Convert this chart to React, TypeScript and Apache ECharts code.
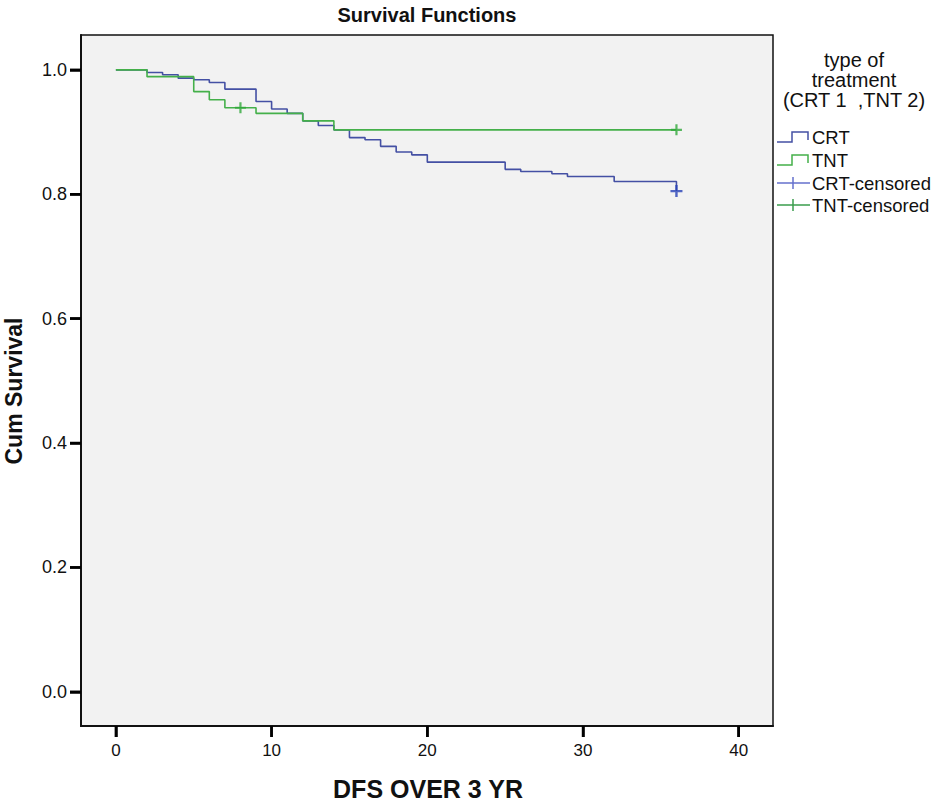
import React, { useEffect, useRef } from "react";
import * as echarts from "echarts";

// ---- data ----
const crtTimes = [0, 2, 3, 4, 5, 6, 7, 9, 10, 11, 12, 13, 14, 15, 16, 17, 18, 19, 20, 25, 26, 28, 29, 32, 36];
const crtSurv = [1.0, 0.9957, 0.992, 0.9866, 0.984, 0.9796, 0.969, 0.949, 0.937, 0.93, 0.918, 0.9105, 0.9035, 0.891, 0.8875, 0.877, 0.868, 0.8633, 0.8516, 0.84, 0.8365, 0.8328, 0.8285, 0.8204, 0.805];
const tntTimes = [0, 2, 5, 6, 7, 9, 12, 14, 36];
const tntSurv = [1.0, 0.989, 0.965, 0.952, 0.939, 0.93, 0.918, 0.9035, 0.9035];
const crtCensorTimes = [36];
const crtCensorSurv = [0.805];
const tntCensorTimes = [8, 36];
const tntCensorSurv = [0.939, 0.9035];
const xTicks = [0, 10, 20, 30, 40];
const yTicks = [0, 0.2, 0.4, 0.6, 0.8, 1.0];
const legendTitle = ["type of", "treatment", "(CRT 1  ,TNT 2)"];
const legendItems = ["CRT", "TNT", "CRT-censored", "TNT-censored"];

const X_MIN = -2.24;
const X_MAX = 42.2;
const Y_MIN = -0.055;
const Y_MAX = 1.056;

const FONT = "Arial, 'Liberation Sans', sans-serif";
const CRT_COLOR = "#4450a4";
const TNT_COLOR = "#44b04a";
const CRT_CENSOR = "#2640b6";
const TNT_CENSOR = "#2fa83a";
const PLUS = "path://M4,0H6V4H10V6H6V10H4V6H0V4H4Z";
const TICK_LEN = 11;

const zip = (a: number[], b: number[]) => a.map((v, i) => [v, b[i]]);

export default function App() {
  const ref = useRef<HTMLDivElement>(null);
  useEffect(() => {
    if (!ref.current) return;
    const chart = echarts.init(ref.current, null, { renderer: "svg" });

    const legendGraphics: any[] = [];
    legendTitle.forEach((t, i) => {
      legendGraphics.push({
        type: "text",
        x: 854,
        y: 60 + i * 20,
        style: { text: t, font: `20px ${FONT}`, fill: "#111", textAlign: "center", textVerticalAlign: "middle" },
      });
    });
    const itemY = [137, 160, 183, 205];
    const iconColors = [CRT_COLOR, TNT_COLOR, "#6470cc", "#3a9d4c"];
    legendItems.forEach((t, i) => {
      const y = itemY[i];
      if (i < 2) {
        legendGraphics.push({
          type: "polyline",
          shape: { points: [[777, y + 5], [792, y + 5], [792, y - 5], [808, y - 5], [808, y + 3]] },
          style: { stroke: iconColors[i], lineWidth: 1.5, fill: null },
        });
      } else {
        legendGraphics.push({
          type: "line",
          shape: { x1: 777, y1: y, x2: 810, y2: y },
          style: { stroke: iconColors[i], lineWidth: 1.5 },
        });
        legendGraphics.push({
          type: "line",
          shape: { x1: 793, y1: y - 6, x2: 793, y2: y + 6 },
          style: { stroke: iconColors[i], lineWidth: 1.5 },
        });
      }
      legendGraphics.push({
        type: "text",
        x: 812,
        y,
        style: { text: t, font: `18.5px ${FONT}`, fill: "#111", textAlign: "left", textVerticalAlign: "middle" },
      });
    });

    // tick marks drawn through the axes' own scales
    const tickData = [
      ...xTicks.map((v) => [v, Y_MIN, 0]),
      ...yTicks.map((v) => [X_MIN, v, 1]),
    ];

    chart.setOption({
      animation: false,
      grid: {
        left: 81,
        top: 35,
        width: 692,
        height: 691,
        show: true,
        backgroundColor: "#f2f2f2",
        borderColor: "#111",
        borderWidth: 1.5,
      },
      xAxis: {
        type: "value",
        min: X_MIN,
        max: X_MAX,
        splitLine: { show: false },
        axisLine: { show: true, onZero: false, lineStyle: { color: "#111", width: 2 } },
        axisTick: { show: true, customValues: xTicks, length: TICK_LEN, lineStyle: { color: "#000", width: 2.5 } },
        axisLabel: { customValues: xTicks, fontFamily: FONT, fontSize: 17, color: "#111", margin: 16 },
      },
      yAxis: {
        type: "value",
        min: Y_MIN,
        max: Y_MAX,
        splitLine: { show: false },
        axisLine: { show: true, onZero: false, lineStyle: { color: "#111", width: 2 } },
        axisTick: { show: true, customValues: yTicks, length: TICK_LEN, lineStyle: { color: "#000", width: 2.5 } },
        axisLabel: {
          customValues: yTicks,
          fontFamily: FONT,
          fontSize: 18,
          color: "#111",
          margin: 14,
          formatter: (v: number) => v.toFixed(1),
        },
      },
      graphic: [
        {
          type: "text",
          x: 427,
          y: 15,
          style: {
            text: "Survival Functions",
            font: `bold 20px ${FONT}`,
            fill: "#111",
            textAlign: "center",
            textVerticalAlign: "middle",
          },
        },
        {
          type: "text",
          x: 14,
          y: 391,
          rotation: Math.PI / 2,
          style: {
            text: "Cum Survival",
            font: `bold 23px ${FONT}`,
            fill: "#111",
            textAlign: "center",
            textVerticalAlign: "middle",
          },
        },
        {
          type: "text",
          x: 428,
          y: 789,
          style: {
            text: "DFS OVER 3 YR",
            font: `bold 25px ${FONT}`,
            fill: "#111",
            textAlign: "center",
            textVerticalAlign: "middle",
          },
        },
        ...legendGraphics,
      ],
      series: [
        {
          name: "CRT",
          type: "line",
          step: "end",
          data: zip(crtTimes, crtSurv),
          showSymbol: false,
          symbol: "none",
          lineStyle: { color: CRT_COLOR, width: 1.6 },
          z: 2,
        },
        {
          name: "TNT",
          type: "line",
          step: "end",
          data: zip(tntTimes, tntSurv),
          showSymbol: false,
          symbol: "none",
          lineStyle: { color: TNT_COLOR, width: 1.6 },
          z: 3,
        },
        {
          name: "CRT-censored",
          type: "scatter",
          data: zip(crtCensorTimes, crtCensorSurv),
          symbol: PLUS,
          symbolSize: 12,
          itemStyle: { color: CRT_CENSOR },
          z: 4,
        },
        {
          name: "TNT-censored",
          type: "scatter",
          data: zip(tntCensorTimes, tntCensorSurv),
          symbol: PLUS,
          symbolSize: 11,
          itemStyle: { color: TNT_CENSOR },
          z: 4,
        },
        {
          name: "ticks",
          type: "custom",
          clip: false,
          silent: true,
          z: 10,
          data: tickData,
          encode: { x: 0, y: 1 },
          renderItem: (params: any, api: any) => {
            const p = api.coord([api.value(0), api.value(1)]);
            const isY = api.value(2) === 1;
            return {
              type: "line",
              shape: isY
                ? { x1: p[0] - TICK_LEN, y1: p[1], x2: p[0], y2: p[1] }
                : { x1: p[0], y1: p[1], x2: p[0], y2: p[1] + TICK_LEN },
              style: { stroke: "#000", lineWidth: 2.5 },
            };
          },
        },
      ],
    });
    return () => chart.dispose();
  }, []);
  return (
    <div
      ref={ref}
      style={{ position: "absolute", left: 0, top: 0, width: 945, height: 809, background: "#fff" }}
    />
  );
}
